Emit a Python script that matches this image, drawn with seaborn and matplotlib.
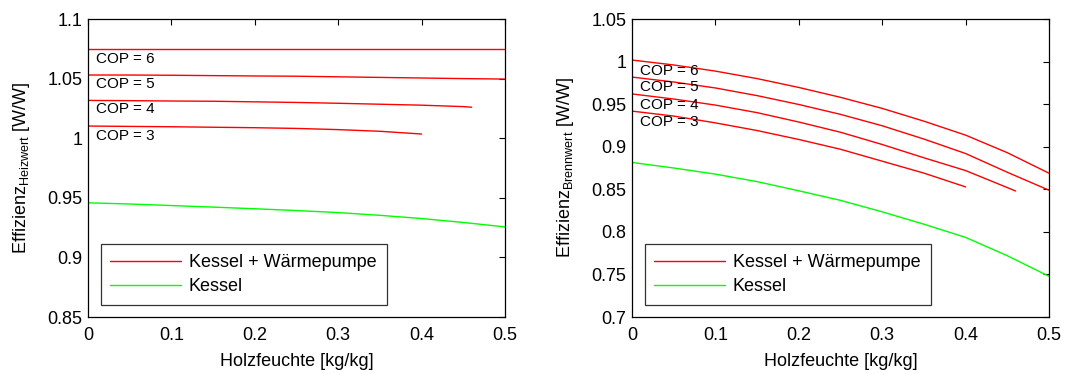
import matplotlib
matplotlib.use("Agg")
import matplotlib.pyplot as plt
import numpy as np
import pandas as pd
import seaborn as sns

sns.set_style("white")
plt.rcParams['font.family'] = ['Liberation Sans', 'DejaVu Sans']
plt.rcParams['mathtext.fontset'] = 'custom'
plt.rcParams['mathtext.rm'] = 'Liberation Sans'
plt.rcParams['mathtext.it'] = 'Liberation Sans'
for k in ['text.color', 'axes.labelcolor', 'xtick.color', 'ytick.color']:
    plt.rcParams[k] = 'black'

# Holzfeuchte grid [kg/kg]
x_full = [0, 0.05, 0.1, 0.15, 0.2, 0.25, 0.3, 0.35, 0.4, 0.45, 0.5]
x_cop4 = [0, 0.05, 0.1, 0.15, 0.2, 0.25, 0.3, 0.35, 0.4, 0.45, 0.46]
x_cop3 = [0, 0.05, 0.1, 0.15, 0.2, 0.25, 0.3, 0.35, 0.4]

# Efficiency related to Heizwert (left)
hw_cop6 = [1.0745] * 11
hw_cop5 = [1.053, 1.053, 1.0528, 1.0525, 1.0522, 1.052, 1.0515, 1.051, 1.0505, 1.050, 1.0496]
hw_cop4 = [1.0317, 1.0315, 1.0312, 1.031, 1.0305, 1.030, 1.0293, 1.0285, 1.0277, 1.0265, 1.026]
hw_cop3 = [1.0102, 1.0099, 1.0096, 1.0092, 1.0088, 1.0082, 1.0072, 1.0058, 1.0035]
hw_kessel = [0.9458, 0.9448, 0.9435, 0.9422, 0.9408, 0.9393, 0.9376, 0.9353, 0.9326, 0.9293, 0.9256]

# Efficiency related to Brennwert (right)
bw_cop6 = [1.0018, 0.996, 0.9888, 0.980, 0.9696, 0.958, 0.945, 0.930, 0.9136, 0.893, 0.8689]
bw_cop5 = [0.9818, 0.976, 0.969, 0.960, 0.9496, 0.938, 0.9246, 0.909, 0.892, 0.870, 0.8489]
bw_cop4 = [0.962, 0.956, 0.9489, 0.940, 0.929, 0.917, 0.9026, 0.887, 0.872, 0.852, 0.848]
bw_cop3 = [0.9418, 0.936, 0.928, 0.919, 0.9085, 0.897, 0.883, 0.869, 0.8528]
bw_kessel = [0.8815, 0.875, 0.8678, 0.859, 0.8482, 0.837, 0.8235, 0.809, 0.7935, 0.772, 0.7478]

cop_labels = ['COP = 6', 'COP = 5', 'COP = 4', 'COP = 3']
hw_label_y = [1.0667, 1.0452, 1.0241, 1.0022]
bw_label_y = [0.9888, 0.9704, 0.9490, 0.9293]

red = '#ff0000'
green = '#00ff00'

fig = plt.figure(figsize=(10.88, 3.74), dpi=100)
ax1 = fig.add_axes([88 / 1088, 57 / 374, 417 / 1088, 298 / 374])
ax2 = fig.add_axes([632 / 1088, 57 / 374, 417 / 1088, 298 / 374])


def draw(ax, cops, kessel, lab_y, ylim, yticks, ylabels, sub):
    xs = [x_full, x_full, x_cop4, x_cop3]
    for i, (xv, yv) in enumerate(zip(xs, cops)):
        df = pd.DataFrame({'x': xv, 'y': yv})
        sns.lineplot(data=df, x='x', y='y', ax=ax, color=red, lw=1.0,
                     label='Kessel + Wärmepumpe' if i == 0 else None)
    df = pd.DataFrame({'x': x_full, 'y': kessel})
    sns.lineplot(data=df, x='x', y='y', ax=ax, color=green, lw=1.0, label='Kessel')

    for t, yy in zip(cop_labels, lab_y):
        ax.text(0.01, yy, t, fontsize=11, va='center', ha='left', color='black')

    ax.set_xlim(0, 0.5)
    ax.set_ylim(*ylim)
    ax.set_xticks([0, 0.1, 0.2, 0.3, 0.4, 0.5])
    ax.set_xticklabels(['0', '0.1', '0.2', '0.3', '0.4', '0.5'])
    ax.set_yticks(yticks)
    ax.set_yticklabels(ylabels)
    ax.tick_params(direction='in', top=True, right=True, length=4, width=0.8,
                   labelsize=13, color='black', labelcolor='black')
    ax.tick_params(axis='x', pad=7)
    ax.tick_params(axis='y', pad=4)
    for s in ax.spines.values():
        s.set_color('black')
        s.set_linewidth(0.9)
    ax.set_xlabel('Holzfeuchte [kg/kg]', fontsize=13, labelpad=7, color='black')
    ax.set_ylabel(r'Effizienz$_{\mathrm{' + sub + r'}}$ [W/W]', fontsize=13,
                  labelpad=11, color='black')
    leg = ax.legend(loc='lower left', bbox_to_anchor=(0.03, 0.04), fontsize=13,
                    frameon=True, fancybox=False, handlelength=3.9,
                    handletextpad=0.45, borderpad=0.55, labelspacing=0.4,
                    borderaxespad=0, labelcolor='black')
    leg.get_frame().set_edgecolor('black')
    leg.get_frame().set_linewidth(0.9)


draw(ax1, [hw_cop6, hw_cop5, hw_cop4, hw_cop3], hw_kessel, hw_label_y,
     (0.85, 1.1), [0.85, 0.9, 0.95, 1.0, 1.05, 1.1],
     ['0.85', '0.9', '0.95', '1', '1.05', '1.1'], 'Heizwert')
draw(ax2, [bw_cop6, bw_cop5, bw_cop4, bw_cop3], bw_kessel, bw_label_y,
     (0.7, 1.05), [0.7, 0.75, 0.8, 0.85, 0.9, 0.95, 1.0, 1.05],
     ['0.7', '0.75', '0.8', '0.85', '0.9', '0.95', '1', '1.05'], 'Brennwert')

fig.savefig('out.png', dpi=100)
